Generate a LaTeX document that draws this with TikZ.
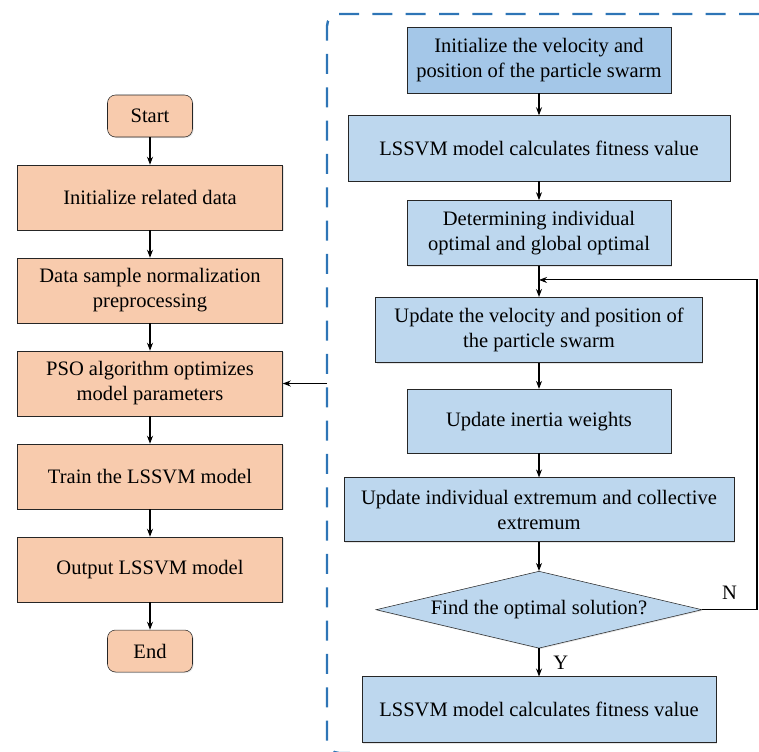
\documentclass[tikz,border=0pt]{standalone}
\usepackage{fontspec}
\setmainfont{Liberation Serif}
\usepackage{xcolor}
\usetikzlibrary{shapes.geometric,arrows.meta,positioning,calc,shadows}
\definecolor{orangebox}{HTML}{F8CBAD}
\definecolor{bluebox}{HTML}{BDD7EE}
\definecolor{bluedark}{HTML}{A4C7E8}
\definecolor{framecol}{HTML}{2E75B6}
\tikzset{
   boxshadow/.style={drop shadow={shadow xshift=0.8pt, shadow yshift=-0.8pt, opacity=0.2}}
}
\tikzstyle{startstop} = [rectangle, rounded corners=6pt, minimum width=63.75pt, minimum height=31.5pt, text centered, draw=black!85, fill=orangebox, boxshadow]
\tikzstyle{process} = [rectangle, minimum width=198.75pt, minimum height=48.75pt, align=center, draw=black!85, fill=orangebox, boxshadow]
\tikzstyle{bprocess} = [rectangle, minimum height=49pt, align=center, draw=black!85, fill=bluebox, boxshadow]
\tikzstyle{decision} = [diamond, aspect=4.2, minimum width=244.5pt, minimum height=57.75pt, inner sep=0pt, text centered, draw=black!85, fill=bluebox, boxshadow]
\tikzstyle{arrow} = [line width=0.8pt, ->, >={Stealth[length=6pt,width=4.5pt]}]
\tikzstyle{frame} = [framecol, line width=1.8pt, dash pattern=on 15pt off 10pt, rounded corners=9pt]

\begin{document}
\begin{tikzpicture}[x=0.75pt, y=-0.75pt, font=\fontsize{15.4}{18.8}\selectfont]
\useasboundingbox (0,0) rectangle (759,751);
% left column
\node (start) [startstop] at (150,116) {Start};
\node (init) [process, below=20.6pt of start] {Initialize related data};
\node (norm) [process, below=20.6pt of init] {Data sample normalization\\preprocessing};
\node (pso) [process, below=20.6pt of norm] {PSO algorithm optimizes\\model parameters};
\node (train) [process, below=20.6pt of pso] {Train the LSSVM model};
\node (out) [process, below=20.6pt of train] {Output LSSVM model};
\node (stop) [startstop, below=20.6pt of out] {End};
% right column (PSO)
\node (swarm) [bprocess, fill=bluedark, minimum width=198pt, minimum height=49.5pt] at (539,60) {Initialize the velocity and\\position of the particle swarm};
\node (fit1) [bprocess, minimum width=286.5pt, below=16.5pt of swarm] {LSSVM model calculates fitness value};
\node (best) [bprocess, minimum width=198pt, below=14.25pt of fit1] {Determining individual\\optimal and global optimal};
\node (upd) [bprocess, minimum width=245pt, below=23.25pt of best] {Update the velocity and position of\\the particle swarm};
\node (inert) [bprocess, minimum width=198pt, minimum height=48pt, below=19.5pt of upd] {Update inertia weights};
\node (extr) [bprocess, minimum width=292.5pt, minimum height=48pt, below=18pt of inert] {Update individual extremum and collective\\extremum};
\node (dec) [decision, below=21.75pt of extr] {Find the optimal solution?};
\node (fit2) [bprocess, minimum width=265.5pt, minimum height=49.5pt, below=21pt of dec] {LSSVM model calculates fitness value};
% frame
\coordinate (fleft) at (327,0);
\coordinate (fright) at (757,0);
\coordinate (loop) at ($(best.south)!0.45!(upd.north)$);
\draw[frame] (759,14) -- (327,14) -- (327,753) -- (350,753);
\draw [arrow] (start) -- (init);
\draw [arrow] (init) -- (norm);
\draw [arrow] (norm) -- (pso);
\draw [arrow] (pso) -- (train);
\draw [arrow] (train) -- (out);
\draw [arrow] (out) -- (stop);
\draw [arrow] (pso -| fleft) -- (pso);
\draw [arrow] (swarm) -- (fit1);
\draw [arrow] (fit1) -- (best);
\draw [arrow] (best) -- (upd);
\draw [arrow] (upd) -- (inert);
\draw [arrow] (inert) -- (extr);
\draw [arrow] (extr) -- (dec);
\draw [arrow] (dec) -- node[right=7pt] {Y} (fit2);
\draw [arrow] (dec.east) -- node[above=4pt] {N} (dec.east -| fright) |- (loop);
\end{tikzpicture}
\end{document}
